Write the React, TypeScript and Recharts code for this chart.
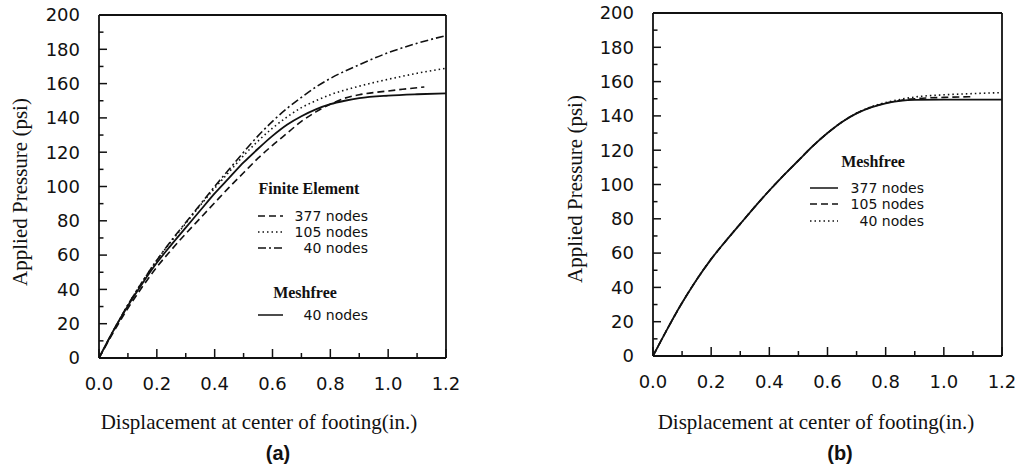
import { LineChart, Line, XAxis, YAxis, ReferenceLine, Legend } from 'recharts'

// tick values (major carry labels, minor are bare inward marks)
const xMajor = [0, 0.2, 0.4, 0.6, 0.8, 1.0, 1.2]
const xMinor = [0.1, 0.3, 0.5, 0.7, 0.9, 1.1]
const yMajor = [0, 20, 40, 60, 80, 100, 120, 140, 160, 180, 200]
const yMinor = [10, 30, 50, 70, 90, 110, 130, 150, 170, 190]

// (a) finite element vs meshfree  -- [displacement, pressure]
const fe377 = [
  [0, 0], [0.05, 15], [0.1, 29], [0.15, 41.5], [0.2, 53], [0.25, 63], [0.3, 72.5], [0.35, 81.5],
  [0.4, 90.5], [0.45, 99.5], [0.5, 108], [0.55, 116.5], [0.6, 124], [0.65, 131], [0.7, 138],
  [0.75, 143.5], [0.8, 148], [0.85, 151.5], [0.9, 153.5], [1.0, 155.7], [1.05, 156.7], [1.125, 158],
]
const fe105 = [
  [0, 0], [0.05, 16], [0.1, 31], [0.15, 44.5], [0.2, 57], [0.25, 68], [0.3, 78.5], [0.35, 89],
  [0.4, 99], [0.45, 108.5], [0.5, 118], [0.55, 126.5], [0.6, 134], [0.65, 140.5], [0.7, 146],
  [0.75, 150], [0.8, 153.5], [0.9, 158.5], [1.0, 162.5], [1.1, 166], [1.2, 169],
]
const fe40 = [
  [0, 0], [0.05, 16], [0.1, 31], [0.15, 44.5], [0.2, 57], [0.25, 68.5], [0.3, 79], [0.35, 89.5],
  [0.4, 100], [0.45, 110], [0.5, 120], [0.55, 129.5], [0.6, 138], [0.65, 145.5], [0.7, 152],
  [0.75, 158], [0.8, 163], [0.9, 171], [1.0, 178], [1.1, 183.5], [1.2, 188],
]
const mf40a = [
  [0, 0], [0.05, 16], [0.1, 30.5], [0.15, 43.5], [0.2, 55.5], [0.25, 66], [0.3, 76], [0.35, 86],
  [0.4, 96], [0.45, 105], [0.5, 114], [0.55, 122], [0.6, 129.5], [0.65, 136], [0.7, 141],
  [0.75, 145], [0.8, 148], [0.85, 150], [0.9, 151.5], [1.0, 153], [1.1, 153.8], [1.2, 154.3],
]

// (b) meshfree convergence
const mf377 = [
  [0, 0], [0.05, 16], [0.1, 31], [0.15, 44.5], [0.2, 56.5], [0.25, 67], [0.3, 77], [0.35, 87],
  [0.4, 96.5], [0.45, 105.5], [0.5, 114], [0.55, 122.5], [0.6, 130], [0.65, 136.5], [0.7, 141.5],
  [0.75, 145], [0.8, 147.3], [0.85, 148.7], [0.9, 149.3], [1.0, 149.5], [1.2, 149.5],
]
const mf105 = [
  [0, 0], [0.05, 16], [0.1, 31], [0.15, 44.5], [0.2, 56.5], [0.25, 67], [0.3, 77], [0.35, 87],
  [0.4, 96.5], [0.45, 105.5], [0.5, 114], [0.55, 122.5], [0.6, 130], [0.65, 136.5], [0.7, 141.5],
  [0.75, 145], [0.8, 147.5], [0.85, 149], [0.9, 150], [1.0, 150.8], [1.1, 151.2],
]
const mf40b = [
  [0, 0], [0.05, 16], [0.1, 31], [0.15, 44.5], [0.2, 56.5], [0.25, 67], [0.3, 77], [0.35, 87],
  [0.4, 96.5], [0.45, 105.5], [0.5, 114], [0.55, 122.5], [0.6, 130], [0.65, 136.5], [0.7, 141.5],
  [0.75, 145.3], [0.8, 147.8], [0.85, 149.6], [0.9, 151], [1.0, 152.3], [1.1, 153], [1.2, 153.6],
]

const toRows = (pts: number[][]) => pts.map(([x, y]) => ({ x, y }))

const INK = '#111'
const tickFont = '"DejaVu Sans", sans-serif'
const serif = '"Liberation Serif", "Times New Roman", serif'
const tickStyle = { fontFamily: tickFont, fontSize: 18, fill: INK }
const axisLine = { stroke: INK, strokeWidth: 1.8 }

// plot scale (px per data unit) — used only to size the inward tick marks
const PX_PER_IN = 290
const PX_PER_PSI = 1.715

const Sample = ({ y, x1, x2, dash }: { y: number; x1: number; x2: number; dash?: string }) => (
  <line x1={x1} y1={y} x2={x2} y2={y} stroke={INK} strokeWidth={1.5} strokeDasharray={dash} />
)

const legendText = { fontFamily: tickFont, fontSize: 14, fill: INK, textAnchor: 'end' as const, dominantBaseline: 'central' as const }
const legendHead = { fontFamily: serif, fontSize: 16, fontWeight: 700, fill: INK, textAnchor: 'middle' as const, dominantBaseline: 'central' as const }

const LegendA = () => (
  <svg width={130} height={150}>
    <text x={59} y={13} {...legendHead}>Finite Element</text>
    <Sample y={41} x1={8} x2={33} dash="7 4" />
    <text x={118} y={41} {...legendText}>377 nodes</text>
    <Sample y={57} x1={8} x2={33} dash="1.5 3" />
    <text x={118} y={57} {...legendText}>105 nodes</text>
    <Sample y={73} x1={8} x2={33} dash="8 3 2 3" />
    <text x={118} y={73} {...legendText}>40 nodes</text>
    <text x={55} y={117} {...legendHead}>Meshfree</text>
    <Sample y={140} x1={8} x2={33} />
    <text x={118} y={140} {...legendText}>40 nodes</text>
  </svg>
)

const LegendB = () => (
  <svg width={130} height={85}>
    <text x={73} y={13} {...legendHead}>Meshfree</text>
    <Sample y={40} x1={10} x2={38} />
    <text x={124} y={40} {...legendText}>377 nodes</text>
    <Sample y={56} x1={10} x2={38} dash="7 4" />
    <text x={124} y={56} {...legendText}>105 nodes</text>
    <Sample y={73} x1={10} x2={38} dash="1.5 3" />
    <text x={124} y={73} {...legendText}>40 nodes</text>
  </svg>
)

const yMark = (v: number, px: number) => (
  <ReferenceLine key={`ym${v}`} segment={[{ x: 0, y: v }, { x: px / PX_PER_IN, y: v }]}
    stroke={INK} strokeWidth={1.5} ifOverflow="visible" />
)
const xMark = (v: number, px: number) => (
  <ReferenceLine key={`xm${v}`} segment={[{ x: v, y: 0 }, { x: v, y: px / PX_PER_PSI }]}
    stroke={INK} strokeWidth={1.5} ifOverflow="visible" />
)

const frame = () => [
  <XAxis key="xa" type="number" dataKey="x" domain={[0, 1.2]} ticks={xMajor} interval={0} tick={tickStyle}
    tickFormatter={(v: number) => v.toFixed(1)} tickSize={0} tickMargin={19} tickLine={false}
    axisLine={axisLine} height={1} allowDataOverflow />,
  <YAxis key="ya" type="number" domain={[0, 200]} ticks={yMajor} interval={0} tick={tickStyle}
    tickSize={0} tickMargin={19} tickLine={false} axisLine={axisLine} width={1} allowDataOverflow />,
  ...yMajor.map((v) => yMark(v, 8)),
  ...yMinor.map((v) => yMark(v, 4.5)),
  ...xMajor.map((v) => xMark(v, 9)),
  ...xMinor.map((v) => xMark(v, 5)),
  <ReferenceLine key="top" y={200} stroke={INK} strokeWidth={1.8} />,
  <ReferenceLine key="right" x={1.2} stroke={INK} strokeWidth={1.8} />,
]

export default function App() {
  return (
    <div style={{ position: 'absolute', left: 0, top: 0, width: 1016, height: 474, background: '#fff' }}>
      <div style={{ position: 'absolute', left: 0, top: 0 }}>
        <LineChart width={500} height={474} margin={{ top: 15, right: 54, bottom: 115, left: 98 }}>
          {frame()}
          <Legend layout="vertical" align="center" verticalAlign="middle" content={() => <LegendA />}
            wrapperStyle={{ left: 250, top: 175, width: 130, height: 150 }} />
          <Line data={toRows(fe377)} dataKey="y" name="377 nodes" type="monotone" stroke={INK} strokeWidth={1.6}
            strokeDasharray="7 4" dot={false} isAnimationActive={false} />
          <Line data={toRows(fe105)} dataKey="y" name="105 nodes" type="monotone" stroke={INK} strokeWidth={1.6}
            strokeDasharray="1.5 3" dot={false} isAnimationActive={false} />
          <Line data={toRows(fe40)} dataKey="y" name="40 nodes" type="monotone" stroke={INK} strokeWidth={1.6}
            strokeDasharray="8 3 2 3" dot={false} isAnimationActive={false} />
          <Line data={toRows(mf40a)} dataKey="y" name="Meshfree 40 nodes" type="monotone" stroke={INK} strokeWidth={1.8}
            dot={false} isAnimationActive={false} />
        </LineChart>
      </div>
      <div style={{ position: 'absolute', left: 500, top: 0 }}>
        <LineChart width={516} height={474} margin={{ top: 13, right: 14, bottom: 117, left: 152 }}>
          {frame()}
          <Legend layout="vertical" align="center" verticalAlign="middle" content={() => <LegendB />}
            wrapperStyle={{ left: 300, top: 148, width: 130, height: 85 }} />
          <Line data={toRows(mf40b)} dataKey="y" name="40 nodes" type="monotone" stroke={INK} strokeWidth={1.6}
            strokeDasharray="1.5 3" dot={false} isAnimationActive={false} />
          <Line data={toRows(mf105)} dataKey="y" name="105 nodes" type="monotone" stroke={INK} strokeWidth={1.6}
            strokeDasharray="7 4" dot={false} isAnimationActive={false} />
          <Line data={toRows(mf377)} dataKey="y" name="377 nodes" type="monotone" stroke={INK} strokeWidth={1.8}
            dot={false} isAnimationActive={false} />
        </LineChart>
      </div>
      <svg width={1016} height={474} style={{ position: 'absolute', left: 0, top: 0, pointerEvents: 'none' }}>
        <g fontFamily={serif} fontSize={21} fill={INK}>
          <text x={20} y={192} transform="rotate(-90 20 192)" textAnchor="middle" dominantBaseline="central">Applied Pressure (psi)</text>
          <text x={259} y={422} textAnchor="middle" dominantBaseline="central">Displacement at center of footing(in.)</text>
          <text x={575} y={189} transform="rotate(-90 575 189)" textAnchor="middle" dominantBaseline="central">Applied Pressure (psi)</text>
          <text x={816} y={422} textAnchor="middle" dominantBaseline="central">Displacement at center of footing(in.)</text>
        </g>
        <g fontFamily='"Liberation Sans", Arial, sans-serif' fontSize={20} fontWeight={700} fill={INK}>
          <text x={278} y={453} textAnchor="middle" dominantBaseline="central">(a)</text>
          <text x={840} y={453} textAnchor="middle" dominantBaseline="central">(b)</text>
        </g>
      </svg>
    </div>
  )
}
